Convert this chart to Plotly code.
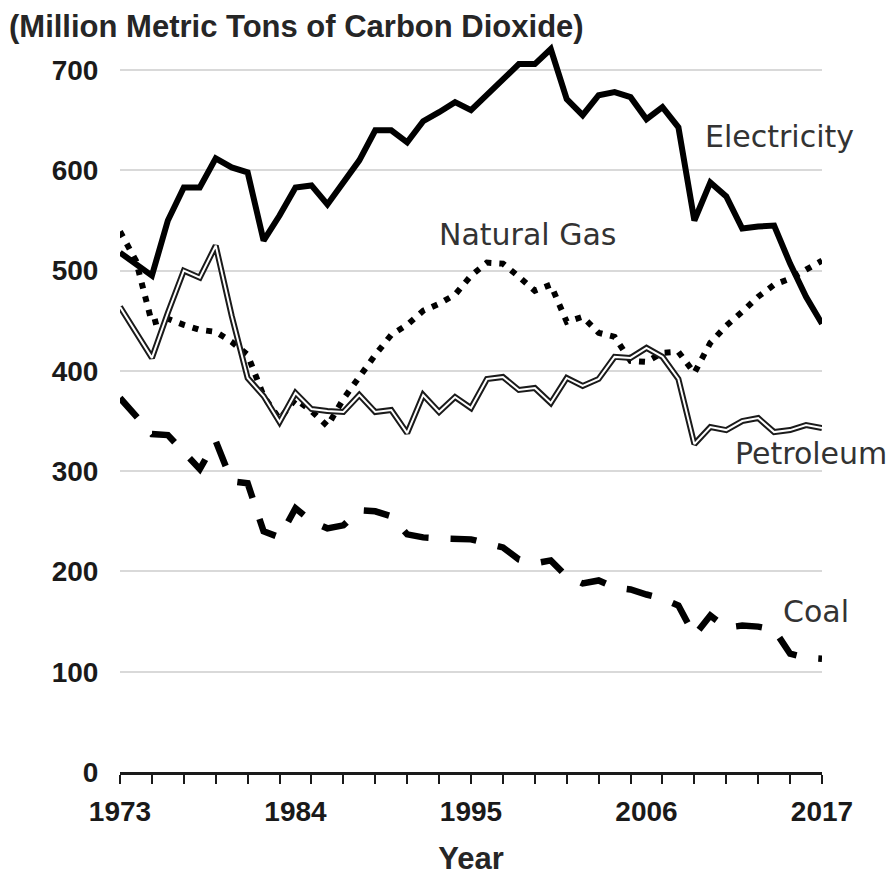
import plotly.graph_objects as go

years = list(range(1973, 2018))

electricity = [518, 507, 495, 550, 583, 583, 612, 603, 598, 530,
               555, 583, 585, 566, 587, 610, 640, 640, 628, 649,
               658, 668, 660, 675, 692, 706, 706, 721, 671, 655,
               675, 678, 673, 651, 663, 643, 550, 588, 574, 542,
               544, 545, 507, 474, 447]

natural_gas = [539, 510, 448, 452, 446, 441, 439, 429, 416, 375,
               352, 372, 360, 345, 372, 395, 416, 436, 446, 460,
               467, 476, 495, 508, 507, 494, 480, 486, 449, 454,
               438, 434, 410, 409, 418, 419, 398, 428, 445, 459,
               474, 486, 492, 501, 510]

petroleum = [464, 438, 413, 458, 500, 493, 525, 455, 393, 375,
             349, 378, 362, 360, 359, 376, 359, 361, 338, 376,
             359, 374, 363, 392, 394, 381, 383, 368, 393, 385,
             392, 414, 413, 423, 414, 392, 327, 344, 341, 350,
             353, 339, 341, 346, 343]

coal = [373, 355, 337, 336, 318, 302, 330, 290, 288, 240,
        234, 263, 250, 243, 246, 261, 260, 255, 237, 234,
        233, 233, 232, 228, 224, 212, 208, 211, 195, 188,
        191, 184, 182, 177, 173, 166, 136, 156, 144, 146,
        145, 142, 118, 114, 113]

x_tick_vals = [1973, 1984, 1995, 2006, 2017]
y_tick_vals = [0, 100, 200, 300, 400, 500, 600, 700]

labels = ["Electricity", "Natural Gas", "Petroleum", "Coal"]
label_x = [2009.55, 1992.87, 2011.43, 2014.4]
label_y = [634, 536, 318, 160]

# page body has an 8px margin; figure is sized to fit the 894x876 window
W, H = 886, 868
L, R, T, B = 112, 72, 22, 104
plot_w = W - L - R
plot_h = H - T - B

fig = go.Figure()

# Coal - thick dashed
fig.add_trace(go.Scatter(x=years, y=coal, mode="lines",
                         line=dict(color="black", width=6.5, dash="26px,22px"),
                         showlegend=False, hoverinfo="skip"))
# Natural gas - dotted
fig.add_trace(go.Scatter(x=years, y=natural_gas, mode="lines",
                         line=dict(color="black", width=6, dash="6px,8px"),
                         showlegend=False, hoverinfo="skip"))
# Petroleum - double line (dark outer, white inner)
fig.add_trace(go.Scatter(x=years, y=petroleum, mode="lines",
                         line=dict(color="#1a1a1a", width=6),
                         showlegend=False, hoverinfo="skip"))
fig.add_trace(go.Scatter(x=years, y=petroleum, mode="lines",
                         line=dict(color="white", width=2),
                         showlegend=False, hoverinfo="skip"))
# Electricity - thick solid
fig.add_trace(go.Scatter(x=years, y=electricity, mode="lines",
                         line=dict(color="black", width=6),
                         showlegend=False, hoverinfo="skip"))

for t, lx, ly in zip(labels, label_x, label_y):
    fig.add_annotation(x=lx, y=ly, xref="x", yref="y", text=t,
                       showarrow=False, xanchor="left", yanchor="middle",
                       font=dict(family="DejaVu Sans", size=30, color="#333333"))

fig.add_annotation(x=-L / plot_w, y=(plot_h + T) / plot_h, xref="paper", yref="paper",
                   text="(Million Metric Tons of Carbon Dioxide)", showarrow=False,
                   xanchor="left", yanchor="top", borderpad=0,
                   font=dict(family="Liberation Sans", size=31, color="#262626", weight="bold"))

fig.update_layout(
    width=W, height=H,
    margin=dict(l=L, r=R, t=T, b=B),
    paper_bgcolor="white", plot_bgcolor="white",
    xaxis=dict(
        range=[1973, 2017], tickvals=x_tick_vals,
        ticktext=[str(v) for v in x_tick_vals],
        ticks="outside", ticklen=13, tickcolor="rgba(0,0,0,0)",
        showline=True, linecolor="#1a1a1a", linewidth=2.5,
        showgrid=False, zeroline=False, automargin=False,
        tickfont=dict(family="Liberation Sans", size=28, color="#1a1a1a", weight="bold"),
        minor=dict(ticks="outside", tick0=1973, dtick=2, ticklen=9,
                   tickwidth=2, tickcolor="#1a1a1a", showgrid=False),
        title=dict(text="Year", standoff=24,
                   font=dict(family="Liberation Sans", size=31, color="#262626", weight="bold")),
    ),
    yaxis=dict(
        range=[0, 740], tickvals=y_tick_vals,
        ticks="outside", ticklen=15, tickcolor="rgba(0,0,0,0)",
        showgrid=True, gridcolor="#d9d9d9", gridwidth=2,
        showline=False, zeroline=False, automargin=False,
        tickfont=dict(family="Liberation Sans", size=28, color="#1a1a1a", weight="bold"),
    ),
)

fig.write_html("out.html")
